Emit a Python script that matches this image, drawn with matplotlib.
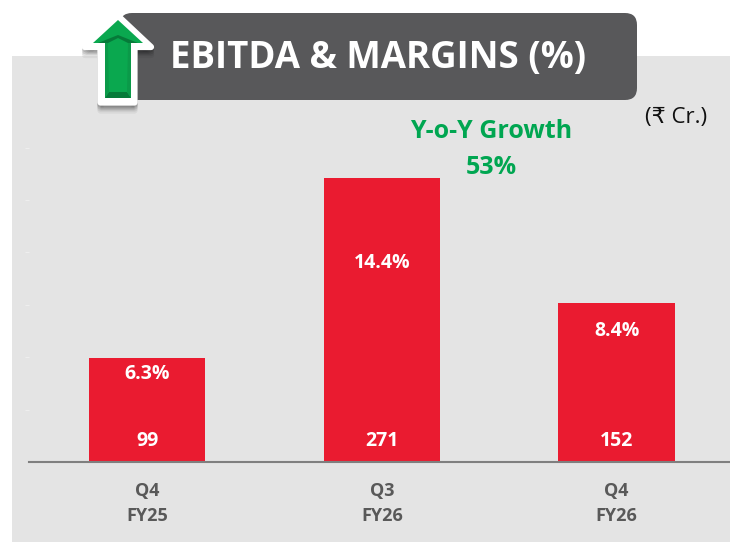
import matplotlib.pyplot as plt
from matplotlib.patches import FancyBboxPatch, Polygon, Rectangle

plt.rcParams['font.family'] = ['Open Sans', 'DejaVu Sans']

W, H = 730, 542

periodos = ['Q4\nFY25', 'Q3\nFY26', 'Q4\nFY26']
ebitda = [99, 271, 152]
margenes = ['6.3%', '14.4%', '8.4%']

fig = plt.figure(figsize=(W / 100, H / 100), dpi=100, facecolor='white')

# fondo y recuadro del titulo, en pixeles
bg = fig.add_axes([0, 0, 1, 1])
bg.set_xlim(0, W)
bg.set_ylim(H, 0)
bg.axis('off')
bg.add_patch(Rectangle((12, 56), W - 12, H - 56, fc='#e4e4e4', ec='none'))
bg.add_patch(FancyBboxPatch((120, 13), 517, 87, boxstyle='round,pad=0,rounding_size=12',
                            fc='#58585a', ec='none'))
bg.text(378, 58, 'EBITDA & MARGINS (%)', color='white', fontsize=26.4, fontweight='bold',
        ha='center', va='center')

# barras
ax = fig.add_axes([29 / W, (H - 462) / H, (W - 29) / W, (462 - 130) / H])
ax.patch.set_alpha(0)
x = range(len(periodos))
barras = ax.bar(x, ebitda, width=0.497, color='#ea1b30')
ax.set_xlim(-0.503, 2.483)
ax.set_ylim(0, 332 / 1.048)
ax.set_yticks(range(50, 301, 50))
ax.set_yticklabels([])
ax.tick_params(axis='y', length=3, color='#eeeeee', width=0.8)
ax.set_xticks(list(x))
ax.set_xticklabels(periodos, fontsize=13, fontweight='bold', color='#595959', linespacing=1.55)
ax.tick_params(axis='x', length=0, pad=14.2)
for lado in ['top', 'left', 'right']:
    ax.spines[lado].set_visible(False)
ax.spines['bottom'].set_color('#7f7f7f')
ax.spines['bottom'].set_linewidth(1.5)

# distancia de la etiqueta de margen al tope de cada barra, en pixeles
bajada = [16, 85, 28]
for i, b in enumerate(barras):
    ax.annotate(str(ebitda[i]), xy=(i, 0), xytext=(0, 21 * 0.72), textcoords='offset points',
                color='white', fontsize=14, fontweight='bold', ha='center', va='center')
    ax.annotate(margenes[i], xy=(i, ebitda[i]), xytext=(0, -bajada[i] * 0.72), textcoords='offset points',
                color='white', fontsize=14, fontweight='bold', ha='center', va='center')

# anotaciones
bg.text(491, 131, 'Y-o-Y Growth', color='#00a651', fontsize=18, fontweight='bold',
        ha='center', va='center')
bg.text(491, 167, '53%', color='#00a651', fontsize=18, fontweight='bold',
        ha='center', va='center')
bg.text(676, 117, '(₹ Cr.)', color='#111111', fontsize=16, ha='center', va='center')

# flecha verde
borde = [(118, 16), (151, 47), (134.5, 47), (134.5, 102.5), (100.5, 102.5), (100.5, 47), (85, 47)]
for d, a in [(8, 0.05), (6, 0.07), (4, 0.10), (2, 0.12)]:
    bg.add_patch(Polygon([(px, py + d) for px, py in borde], closed=True, fc='black', ec='black',
                         lw=4.5, alpha=a, joinstyle='round'))
bg.add_patch(Polygon(borde, closed=True, fc='white', ec='white', lw=4.5, joinstyle='round'))
verde = [(118, 20), (143, 43), (131, 43), (131, 98), (105, 98), (105, 43), (93, 43)]
bg.add_patch(Polygon(verde, closed=True, fc='#0aa84f', ec='none'))
bg.add_patch(Polygon([(98, 43), (118, 35), (138, 43), (128, 43), (118, 38), (108, 43)], closed=True,
                     fc='#067a39', ec='none'))
bg.add_patch(Polygon([(105, 98), (109, 92), (127, 92), (131, 98)], closed=True, fc='#067a39', ec='none'))
bg.add_patch(Polygon([(105, 43), (108, 43), (109, 92), (105, 98)], closed=True, fc='#0b9a49', ec='none'))
bg.add_patch(Polygon([(131, 43), (128, 43), (127, 92), (131, 98)], closed=True, fc='#0b9a49', ec='none'))

fig.savefig('out.png', dpi=100)
